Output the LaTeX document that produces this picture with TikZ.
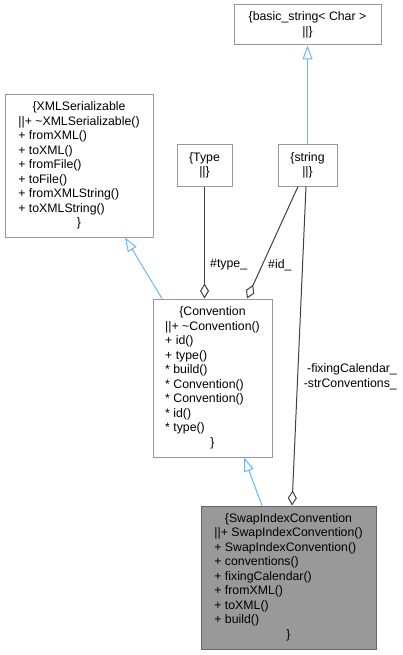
\documentclass[tikz,border=0pt]{standalone}
\usepackage{fontspec}
\setmainfont{Liberation Sans}
\usepackage{tikz}
\usetikzlibrary{arrows.meta}
\usetikzlibrary{positioning}

\definecolor{edgeblue}{HTML}{63B8FF}
\definecolor{edgegray}{HTML}{404040}
\definecolor{boxline}{HTML}{999999}
\definecolor{hiline}{HTML}{666666}
\definecolor{hifill}{HTML}{999999}

\newcommand{\ctr}[1]{\multicolumn{1}{@{}c@{}}{#1}}

\begin{document}
\begin{tikzpicture}[x=1pt, y=-1pt,
        every node/.style={font=\fontsize{12.3}{14.5}\selectfont, inner sep=0pt},
        cls/.style={draw=boxline, line width=1pt, fill=white},
        hicls/.style={draw=hiline, line width=1pt, fill=hifill},
        inherit/.style={draw=edgeblue, line width=1pt,
            -{Triangle[open, length=14pt, width=10pt, fill=white]}},
        usage/.style={draw=edgegray, line width=1pt,
            -{Diamond[open, length=15pt, width=9pt, fill=white]}},
        lbl/.style={text=black, align=left}]
        \useasboundingbox (0,0) rectangle (403,655);

        % classes
        \node[cls, minimum width=147pt, minimum height=40pt] (basestr)
            at (307.5, 25) {\begin{tabular}{@{}c@{}}\{basic\_string< Char >\\||\}\end{tabular}};
        \node[cls, minimum width=148pt, minimum height=142pt] (xmlser)
            at (79, 166) {\begin{tabular}{@{}l@{}}\ctr{\{XMLSerializable}\\
                ||+ \textasciitilde XMLSerializable()\\
                + fromXML()\\ + toXML()\\ + fromFile()\\ + toFile()\\
                + fromXMLString()\\ + toXMLString()\\ \ctr{\}}\end{tabular}};
        \node[cls, minimum width=55pt, minimum height=41pt] (type)
            at (204.5, 165.5) {\begin{tabular}{@{}c@{}}\{Type\\||\}\end{tabular}};
        \node[cls, minimum width=59pt, minimum height=41pt] (string)
            at (307.5, 165.5) {\begin{tabular}{@{}c@{}}\{string\\||\}\end{tabular}};
        \node[cls, minimum width=119pt, minimum height=158pt] (conv)
            at (212.5, 378) {\begin{tabular}{@{}l@{}}\ctr{\{Convention}\\
                ||+ \textasciitilde Convention()\\
                + id()\\ + type()\\ {*} build()\\ {*} Convention()\\
                {*} Convention()\\ {*} id()\\ {*} type()\\ \ctr{\}}\end{tabular}};
        \node[hicls, minimum width=175pt, minimum height=143pt] (swap)
            at (288.5, 577.5) {\begin{tabular}{@{}l@{}}\ctr{\{SwapIndexConvention}\\
                ||+ SwapIndexConvention()\\
                + SwapIndexConvention()\\ + conventions()\\
                + fixingCalendar()\\ + fromXML()\\ + toXML()\\
                + build()\\ \ctr{\}}\end{tabular}};

        % inheritance
        \draw[inherit] (string.north) -- (basestr.south);
        \draw[inherit] ([xshift=-50.5pt]conv.north) -- ([xshift=46pt]xmlser.south);
        \draw[inherit] ([xshift=-26.5pt]swap.north) -- ([xshift=31.5pt]conv.south);

        % members
        \draw[usage] (type.south) -- (type.south |- conv.north);
        \draw[usage] ([xshift=-9.5pt]string.south) -- ([xshift=34.5pt]conv.north);
        \draw[usage] ([xshift=-1.5pt]string.south) -- ([xshift=3.5pt]swap.north);

        \node[lbl, anchor=west] (typelbl) at (210, 265) {\#type\_};
        \node[lbl, anchor=west] (idlbl) at (268, 265) {\#id\_};
        \node[lbl, anchor=east, align=right] (callbl) at (397, 377)
            {-fixingCalendar\_\\-strConventions\_};
\end{tikzpicture}
\end{document}
